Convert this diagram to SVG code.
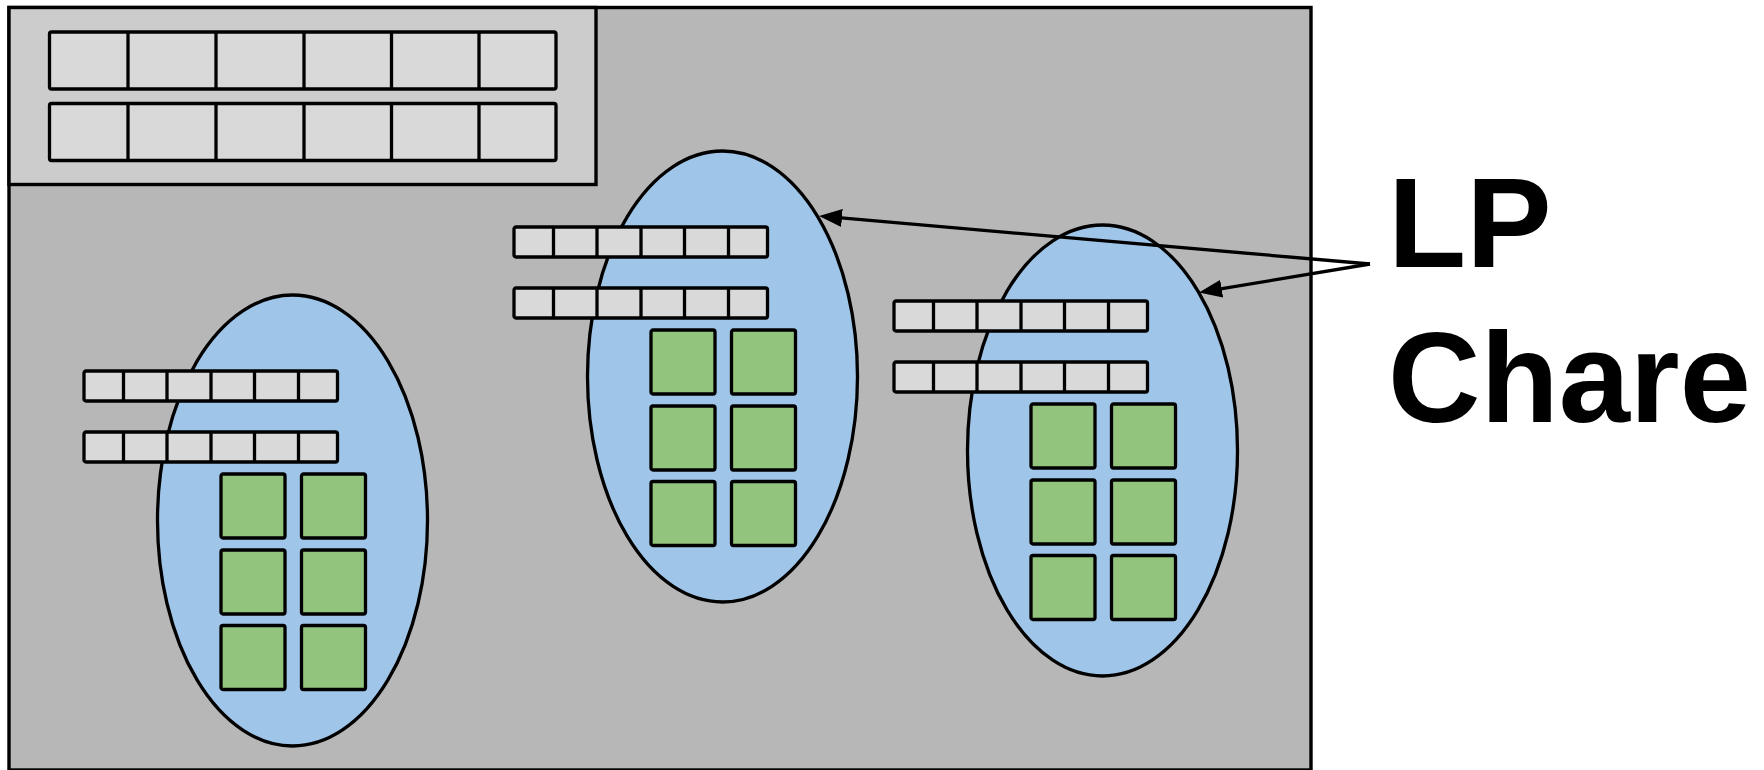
<svg xmlns="http://www.w3.org/2000/svg" xmlns:xlink="http://www.w3.org/1999/xlink" width="1764" height="770" viewBox="0 0 1764 770">
  <style>
    .frame { fill: #b7b7b7; stroke: #000; stroke-width: 3.4; }
    .pool { fill: #cccccc; stroke: #000; stroke-width: 3.4; }
    .cell { fill: #d9d9d9; stroke: #000; stroke-width: 3.3; stroke-linejoin: round; }
    .div { stroke: #000; stroke-width: 3.3; }
    .chare { fill: #9fc5e8; stroke: #000; stroke-width: 3.3; }
    .task { fill: #93c47d; stroke: #000; stroke-width: 3.3; stroke-linejoin: round; }
    .link { fill: none; stroke: #000; stroke-width: 3.3; }
    .label { font-family: "Liberation Sans", Arial, sans-serif; font-weight: bold; font-size: 128px; fill: #000; }
  </style>
  <defs>
    <marker id="arrow" markerUnits="userSpaceOnUse" markerWidth="24" markerHeight="18" refX="15" refY="9" orient="auto">
      <path d="M0,0 L23,9 L0,18 Z" fill="#000"/>
    </marker>
    <!-- small six-slot register row -->
    <g id="row">
      <rect class="cell" x="0" y="0" width="253.5" height="30" rx="2"/>
      <line class="div" x1="39.5" y1="0" x2="39.5" y2="30"/>
      <line class="div" x1="83" y1="0" x2="83" y2="30"/>
      <line class="div" x1="127" y1="0" x2="127" y2="30"/>
      <line class="div" x1="170.5" y1="0" x2="170.5" y2="30"/>
      <line class="div" x1="214.5" y1="0" x2="214.5" y2="30"/>
    </g>
    <!-- 2x3 grid of work units -->
    <g id="grid">
      <rect class="task" x="0" y="0" width="64" height="64" rx="2"/>
      <rect class="task" x="80.5" y="0" width="64" height="64" rx="2"/>
      <rect class="task" x="0" y="76" width="64" height="64" rx="2"/>
      <rect class="task" x="80.5" y="76" width="64" height="64" rx="2"/>
      <rect class="task" x="0" y="151.5" width="64" height="64" rx="2"/>
      <rect class="task" x="80.5" y="151.5" width="64" height="64" rx="2"/>
    </g>
    <!-- one chare: ellipse, two register rows, work grid -->
    <g id="chareShape">
      <ellipse class="chare" cx="292.5" cy="520.5" rx="135" ry="225.5"/>
      <use xlink:href="#row" x="84" y="371"/>
      <use xlink:href="#row" x="84" y="432"/>
      <use xlink:href="#grid" x="221" y="474"/>
    </g>
  </defs>

  <g id="processor">
    <rect class="frame" x="9" y="7.5" width="1302" height="762.5"/>
  </g>

  <g id="shared-pool">
    <rect class="pool" x="9" y="7.5" width="587" height="177"/>
    <g>
      <rect class="cell" x="49.5" y="32" width="506.5" height="57" rx="2"/>
      <line class="div" x1="128" y1="32" x2="128" y2="89"/>
      <line class="div" x1="216" y1="32" x2="216" y2="89"/>
      <line class="div" x1="304" y1="32" x2="304" y2="89"/>
      <line class="div" x1="391.5" y1="32" x2="391.5" y2="89"/>
      <line class="div" x1="479" y1="32" x2="479" y2="89"/>
    </g>
    <g>
      <rect class="cell" x="49.5" y="103.5" width="506.5" height="57" rx="2"/>
      <line class="div" x1="128" y1="103.5" x2="128" y2="160.5"/>
      <line class="div" x1="216" y1="103.5" x2="216" y2="160.5"/>
      <line class="div" x1="304" y1="103.5" x2="304" y2="160.5"/>
      <line class="div" x1="391.5" y1="103.5" x2="391.5" y2="160.5"/>
      <line class="div" x1="479" y1="103.5" x2="479" y2="160.5"/>
    </g>
  </g>

  <g id="chare-1">
    <use xlink:href="#chareShape" x="0" y="0"/>
  </g>
  <g id="chare-2">
    <use xlink:href="#chareShape" x="430" y="-144"/>
  </g>
  <g id="chare-3">
    <use xlink:href="#chareShape" x="810" y="-70"/>
  </g>

  <g id="connectors">
    <line class="link" x1="1370" y1="264" x2="827" y2="216.7" marker-end="url(#arrow)"/>
    <line class="link" x1="1370" y1="264" x2="1206.9" y2="291.2" marker-end="url(#arrow)"/>
  </g>

  <g id="legend">
    <text class="label" x="1388" y="266.5">LP</text>
    <text class="label" x="1388" y="421.5">Chare</text>
  </g>
</svg>
